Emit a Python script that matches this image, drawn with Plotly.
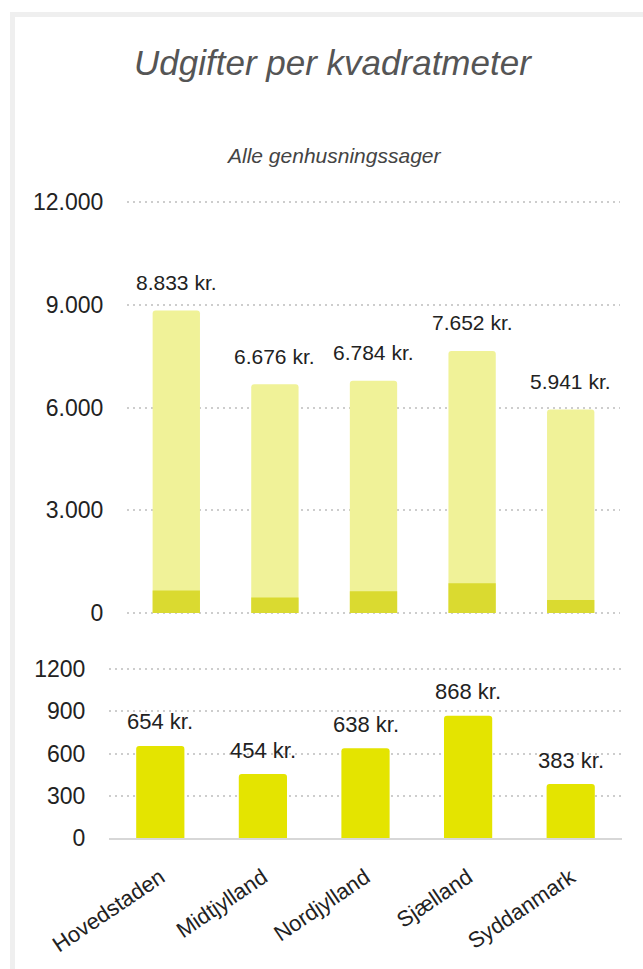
import plotly.graph_objects as go

# data
regions = ["Hovedstaden", "Midtjylland", "Nordjylland", "Sjælland", "Syddanmark"]
total_per_m2 = [8833, 6676, 6784, 7652, 5941]
part_per_m2 = [654, 454, 638, 868, 383]

top_tickvals = [0, 3000, 6000, 9000, 12000]
top_ticktext = ["0", "3.000", "6.000", "9.000", "12.000"]
bottom_tickvals = [0, 300, 600, 900, 1200]
bottom_ticktext = ["0", "300", "600", "900", "1200"]

total_labels = ["8.833 kr.", "6.676 kr.", "6.784 kr.", "7.652 kr.", "5.941 kr."]
part_labels = ["654 kr.", "454 kr.", "638 kr.", "868 kr.", "383 kr."]

W, H = 643, 969
FONT = "Liberation Sans"
PALE = "rgb(240,242,152)"
DARK = "rgb(218,218,48)"
BRIGHT = "rgb(228,228,0)"
GRID = "rgb(205,205,205)"
GRID_DASH = "2px,4px"


def px_x(p):
    return p / W


def px_y(p):
    return 1 - p / H


def padded(lo_px, hi_px, vmax, pad_lo_px, pad_hi_px):
    # extend range a few pixels so the end gridlines are not clipped,
    # and widen the domain by the same amount to keep pixel positions
    per_px = vmax / (lo_px - hi_px)
    domain = [px_y(lo_px + pad_lo_px), px_y(hi_px - pad_hi_px)]
    return domain, [-pad_lo_px * per_px, vmax + pad_hi_px * per_px]


top_domain, top_range = padded(613, 202, 12000, 4, 4)
bot_domain, bot_range = padded(838, 669, 1200, 0, 4)

fig = go.Figure()

# top panel: total with the smaller part overlaid
fig.add_trace(go.Bar(
    x=regions, y=total_per_m2, marker=dict(color=PALE, cornerradius=3),
    xaxis="x", yaxis="y", width=0.48, hoverinfo="skip",
))
fig.add_trace(go.Bar(
    x=regions, y=part_per_m2, marker=dict(color=DARK, cornerradius=2),
    xaxis="x", yaxis="y", width=0.48, hoverinfo="skip",
))

# bottom panel
fig.add_trace(go.Bar(
    x=regions, y=part_per_m2, marker=dict(color=BRIGHT, cornerradius=3),
    xaxis="x2", yaxis="y2", width=0.47, hoverinfo="skip",
))

annotations = []
for r, v, t in zip(regions, total_per_m2, total_labels):
    annotations.append(dict(
        x=r, y=v, xref="x", yref="y", text=t, showarrow=False,
        yanchor="middle", yshift=28, font=dict(family=FONT, size=21, color="#222"),
    ))
for r, v, t in zip(regions, part_per_m2, part_labels):
    annotations.append(dict(
        x=r, y=v, xref="x2", yref="y2", text=t, showarrow=False,
        yanchor="middle", yshift=24, font=dict(family=FONT, size=22, color="#222"),
    ))

annotations.append(dict(
    x=px_x(333), y=px_y(62), xref="paper", yref="paper",
    text="<i>Udgifter per kvadratmeter</i>", showarrow=False,
    xanchor="center", yanchor="middle",
    font=dict(family=FONT, size=35, color="#555"),
))
annotations.append(dict(
    x=px_x(333), y=px_y(155), xref="paper", yref="paper",
    text="<i>Alle genhusningssager</i>", showarrow=False,
    xanchor="center", yanchor="middle",
    font=dict(family=FONT, size=21, color="#444"),
))

# faint frame lines at top and left
shapes = [
    dict(type="rect", xref="paper", yref="paper",
         x0=px_x(10), x1=1, y0=px_y(17), y1=px_y(12),
         fillcolor="#efefef", line=dict(width=0), layer="below"),
    dict(type="rect", xref="paper", yref="paper",
         x0=px_x(10), x1=px_x(15), y0=0, y1=px_y(12),
         fillcolor="#efefef", line=dict(width=0), layer="below"),
]

tick_font = dict(family=FONT, size=23, color="#222")

fig.update_layout(
    width=W, height=H,
    template="none",
    paper_bgcolor="white", plot_bgcolor="white",
    margin=dict(l=0, r=0, t=0, b=0),
    showlegend=False,
    barmode="overlay",
    annotations=annotations,
    shapes=shapes,
    xaxis=dict(
        domain=[px_x(127), px_x(620)], anchor="y",
        showticklabels=False, showgrid=False, zeroline=False, showline=False,
        ticks="", automargin=False,
    ),
    yaxis=dict(
        domain=top_domain, anchor="x",
        range=top_range, tickvals=top_tickvals, ticktext=top_ticktext,
        showgrid=True, gridcolor=GRID, griddash=GRID_DASH, gridwidth=2,
        zeroline=False, showline=False,
        ticks="outside", ticklen=18, tickcolor="rgba(0,0,0,0)",
        tickfont=tick_font, automargin=False,
    ),
    xaxis2=dict(
        domain=[px_x(109), px_x(622)], anchor="y2",
        tickangle=-34, tickfont=dict(family=FONT, size=22, color="#222"),
        showgrid=False, zeroline=False,
        showline=True, linecolor="rgb(215,215,215)", linewidth=2,
        ticks="outside", ticklen=16, tickcolor="rgba(0,0,0,0)",
        automargin=False,
    ),
    yaxis2=dict(
        domain=bot_domain, anchor="x2",
        range=bot_range, tickvals=bottom_tickvals, ticktext=bottom_ticktext,
        showgrid=True, gridcolor=GRID, griddash=GRID_DASH, gridwidth=2,
        zeroline=False, showline=False,
        ticks="outside", ticklen=18, tickcolor="rgba(0,0,0,0)",
        tickfont=tick_font, automargin=False,
    ),
)

fig.write_html(
    "out.html",
    config={"displayModeBar": False},
    post_script="document.body.style.margin='0';",
)
